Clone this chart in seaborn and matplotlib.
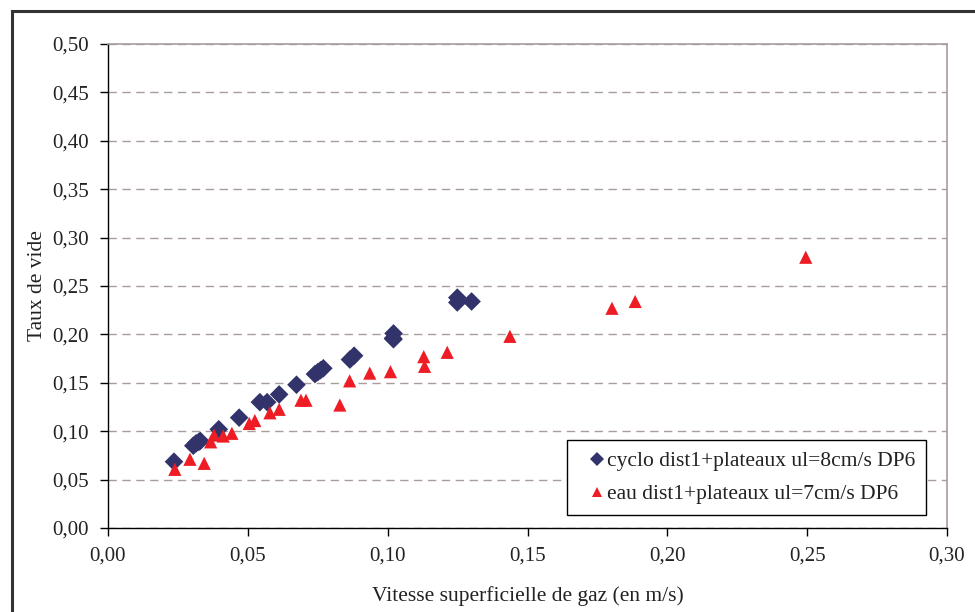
import matplotlib
matplotlib.use("Agg")
import matplotlib.pyplot as plt
from matplotlib.patches import Rectangle
from matplotlib.ticker import FuncFormatter, MultipleLocator
import seaborn as sns
import pandas as pd

# Series 1: cyclo dist1+plateaux ul=8cm/s DP6
cyclo_x = [0.0236, 0.0305, 0.0315, 0.0325, 0.0330, 0.0396, 0.0469, 0.0543, 0.0569,
           0.0612, 0.0674, 0.0740, 0.0750, 0.0760, 0.0770, 0.0865, 0.0880,
           0.1019, 0.1021, 0.1021, 0.1249, 0.1249, 0.1300]
cyclo_y = [0.0685, 0.0850, 0.0875, 0.0890, 0.0900, 0.1020, 0.1140, 0.1300, 0.1300,
           0.1380, 0.1480, 0.1590, 0.1610, 0.1630, 0.1650, 0.1740, 0.1780,
           0.1960, 0.1950, 0.2010, 0.2330, 0.2380, 0.2340]

# Series 2: eau dist1+plateaux ul=7cm/s DP6
eau_x = [0.0239, 0.0293, 0.0344, 0.0367, 0.0379, 0.0412, 0.0443, 0.0505, 0.0525,
         0.0579, 0.0612, 0.0690, 0.0708, 0.0829, 0.0864, 0.0936, 0.1010,
         0.1129, 0.1132, 0.1213, 0.1437, 0.1802, 0.1885, 0.2495]
eau_y = [0.0606, 0.0710, 0.0668, 0.0890, 0.0960, 0.0950, 0.0978, 0.1080, 0.1110,
         0.1190, 0.1226, 0.1320, 0.1320, 0.1270, 0.1520, 0.1600, 0.1615,
         0.1770, 0.1670, 0.1815, 0.1980, 0.2270, 0.2340, 0.2797]

labels = ["cyclo dist1+plateaux ul=8cm/s DP6", "eau dist1+plateaux ul=7cm/s DP6"]

df = pd.DataFrame({
    "x": cyclo_x + eau_x,
    "y": cyclo_y + eau_y,
    "serie": [labels[0]] * len(cyclo_x) + [labels[1]] * len(eau_x),
})

sns.set_theme(style="white")
plt.rcParams["font.family"] = ["Liberation Serif", "DejaVu Serif"]

fig = plt.figure(figsize=(9.75, 6.12), dpi=100)
ax = fig.add_axes([108 / 975, 1 - 528 / 612, (947 - 108) / 975, (528 - 44) / 612])

sns.scatterplot(data=df, x="x", y="y", hue="serie", style="serie",
                palette={labels[0]: "#31336A", labels[1]: "#EE1C25"},
                markers={labels[0]: "D", labels[1]: "^"},
                s=90, edgecolor="none", linewidth=0, ax=ax, zorder=3)

ax.set_xlim(0, 0.30)
ax.set_ylim(0, 0.50)
ax.xaxis.set_major_locator(MultipleLocator(0.05))
ax.yaxis.set_major_locator(MultipleLocator(0.05))
fmt = FuncFormatter(lambda v, p: f"{v:.2f}".replace(".", ","))
ax.xaxis.set_major_formatter(fmt)
ax.yaxis.set_major_formatter(fmt)

ax.grid(axis="y", linestyle=(0, (6, 4)), color="#A89C9C", linewidth=1.0)
ax.grid(axis="x", visible=False)
ax.set_axisbelow(True)

for side in ["top", "right"]:
    ax.spines[side].set_color("#A89C9C")
    ax.spines[side].set_linewidth(1.2)
for side in ["left", "bottom"]:
    ax.spines[side].set_color("black")
    ax.spines[side].set_linewidth(1.0)

ax.tick_params(axis="both", which="major", direction="out", length=6, width=1,
               color="black", labelsize=15, labelcolor="#222222", pad=8,
               left=True, bottom=True)
ax.tick_params(axis="x", pad=7)

ax.set_xlabel("Vitesse superficielle de gaz (en m/s)", fontsize=15.5, color="#222222")
ax.xaxis.set_label_coords(0.5, -0.119)
ax.set_ylabel("Taux de vide", fontsize=15.5, color="#222222")
ax.yaxis.set_label_coords(-0.073, 0.5)

leg = ax.legend(loc="lower left", bbox_to_anchor=(0.547, 0.027), borderaxespad=0,
                fancybox=False, edgecolor="black", framealpha=1, fontsize=15.5,
                markerscale=0.7, handletextpad=-0.43, handlelength=1.79,
                borderpad=0.5, labelspacing=0.6, title=None)
leg.get_frame().set_linewidth(1.0)
for t in leg.get_texts():
    t.set_color("#222222")

# outer chart border
fig.patches.append(Rectangle((11.5 / 975, -0.1), 1.2, 1 - 10.5 / 612 + 0.1,
                             transform=fig.transFigure, fill=False,
                             edgecolor="#333333", linewidth=2.2, zorder=0))

fig.savefig("out.png", dpi=100)
